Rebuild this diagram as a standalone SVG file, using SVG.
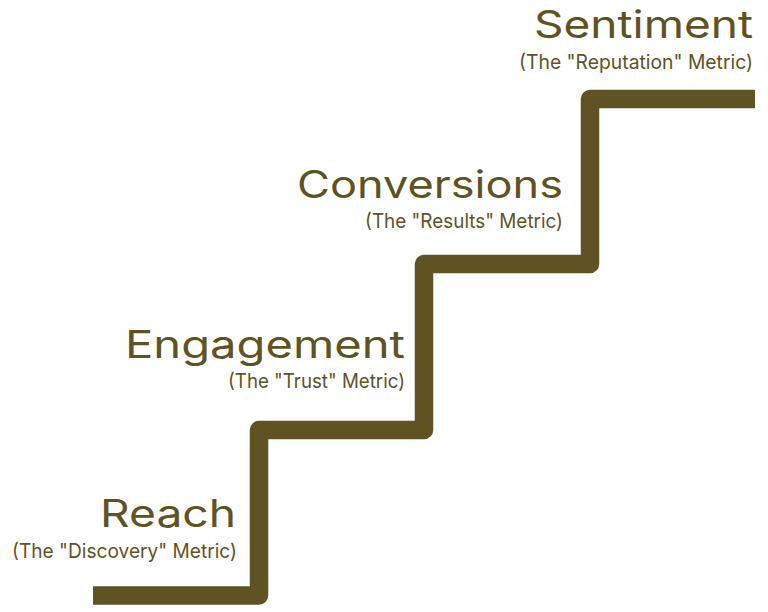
<svg xmlns="http://www.w3.org/2000/svg" width="768" height="612" viewBox="0 0 768 612">
<style>
.t{font-family:Inter,"Open Sans","Liberation Sans",sans-serif;fill:#5f5323;text-anchor:end}
.h{font-size:38px;font-weight:400}
.s{font-size:20px;font-weight:400}
.stair{fill:none;stroke:#5f5323;stroke-width:18.5;stroke-linejoin:round;stroke-linecap:butt}
</style>
<rect width="768" height="612" fill="#ffffff"/>
<g id="connectors">
<path class="stair" d="M93,595.5 H259 V430 H424 V264 H590 V99 H755"/>
</g>
<g id="sentiment">
<text class="t h" x="753" y="38" textLength="219" lengthAdjust="spacingAndGlyphs">Sentiment</text>
<text class="t s" x="753" y="69" textLength="234" lengthAdjust="spacingAndGlyphs">(The "Reputation" Metric)</text>
</g>
<g id="conversions">
<text class="t h" x="563" y="198" textLength="266" lengthAdjust="spacingAndGlyphs">Conversions</text>
<text class="t s" x="563" y="228" textLength="198" lengthAdjust="spacingAndGlyphs">(The "Results" Metric)</text>
</g>
<g id="engagement">
<text class="t h" x="405" y="358" textLength="280" lengthAdjust="spacingAndGlyphs">Engagement</text>
<text class="t s" x="405" y="388" textLength="177" lengthAdjust="spacingAndGlyphs">(The "Trust" Metric)</text>
</g>
<g id="reach">
<text class="t h" x="236" y="527" textLength="136" lengthAdjust="spacingAndGlyphs">Reach</text>
<text class="t s" x="237" y="558" textLength="225" lengthAdjust="spacingAndGlyphs">(The "Discovery" Metric)</text>
</g>
</svg>
